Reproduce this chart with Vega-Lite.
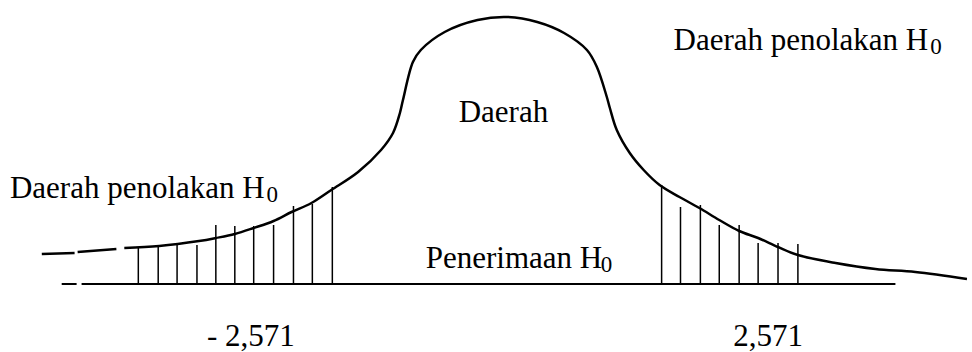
{
  "$schema": "https://vega.github.io/schema/vega-lite/v6.json",
  "width": 972,
  "height": 352,
  "padding": 0,
  "autosize": {"type": "fit", "contains": "padding"},
  "background": "white",
  "config": {"view": {"stroke": null}},
  "datasets": {
    "curve": [
      {"seg": 1, "t": -4.588, "d": 0.045},
      {"seg": 1, "t": -4.265, "d": 0.0465},
      {"seg": 2, "t": -4.235, "d": 0.048},
      {"seg": 2, "t": -3.853, "d": 0.0525},
      {"seg": 3, "t": -3.775, "d": 0.054},
      {"seg": 3, "t": -3.431, "d": 0.057},
      {"seg": 3, "t": -3.039, "d": 0.0645},
      {"seg": 3, "t": -2.873, "d": 0.069},
      {"seg": 3, "t": -2.686, "d": 0.075},
      {"seg": 3, "t": -2.5, "d": 0.084},
      {"seg": 3, "t": -2.304, "d": 0.0945},
      {"seg": 3, "t": -2.127, "d": 0.108},
      {"seg": 3, "t": -1.931, "d": 0.1215},
      {"seg": 3, "t": -1.735, "d": 0.141},
      {"seg": 3, "t": -1.471, "d": 0.168},
      {"seg": 3, "t": -1.245, "d": 0.201},
      {"seg": 3, "t": -1.127, "d": 0.2265},
      {"seg": 3, "t": -1.059, "d": 0.2565},
      {"seg": 3, "t": -1.029, "d": 0.276},
      {"seg": 3, "t": -0.931, "d": 0.333},
      {"seg": 3, "t": -0.853, "d": 0.351},
      {"seg": 3, "t": -0.618, "d": 0.378},
      {"seg": 3, "t": -0.294, "d": 0.396},
      {"seg": 3, "t": 0.0, "d": 0.4005},
      {"seg": 3, "t": 0.294, "d": 0.393},
      {"seg": 3, "t": 0.559, "d": 0.3765},
      {"seg": 3, "t": 0.784, "d": 0.351},
      {"seg": 3, "t": 0.882, "d": 0.3255},
      {"seg": 3, "t": 0.98, "d": 0.2805},
      {"seg": 3, "t": 1.01, "d": 0.264},
      {"seg": 3, "t": 1.078, "d": 0.231},
      {"seg": 3, "t": 1.206, "d": 0.1965},
      {"seg": 3, "t": 1.343, "d": 0.171},
      {"seg": 3, "t": 1.5, "d": 0.1485},
      {"seg": 3, "t": 1.696, "d": 0.1305},
      {"seg": 3, "t": 1.892, "d": 0.114},
      {"seg": 3, "t": 2.088, "d": 0.096},
      {"seg": 3, "t": 2.284, "d": 0.0795},
      {"seg": 3, "t": 2.471, "d": 0.069},
      {"seg": 3, "t": 2.667, "d": 0.0555},
      {"seg": 3, "t": 2.863, "d": 0.0435},
      {"seg": 3, "t": 3.235, "d": 0.0315},
      {"seg": 3, "t": 3.627, "d": 0.0225},
      {"seg": 3, "t": 4.02, "d": 0.018},
      {"seg": 3, "t": 4.529, "d": 0.0075}
    ],
    "hatch": [
      {"t": -3.637, "bottom": 0, "top": 0.054},
      {"t": -3.441, "bottom": 0, "top": 0.057},
      {"t": -3.255, "bottom": 0, "top": 0.06},
      {"t": -3.059, "bottom": 0, "top": 0.0585},
      {"t": -2.873, "bottom": 0, "top": 0.0885},
      {"t": -2.686, "bottom": 0, "top": 0.087},
      {"t": -2.5, "bottom": 0, "top": 0.087},
      {"t": -2.304, "bottom": 0, "top": 0.0885},
      {"t": -2.108, "bottom": 0, "top": 0.117},
      {"t": -1.922, "bottom": 0, "top": 0.12},
      {"t": -1.725, "bottom": 0, "top": 0.1455},
      {"t": 1.52, "bottom": 0, "top": 0.1485},
      {"t": 1.706, "bottom": 0, "top": 0.1155},
      {"t": 1.902, "bottom": 0, "top": 0.1185},
      {"t": 2.088, "bottom": 0, "top": 0.0885},
      {"t": 2.284, "bottom": 0, "top": 0.0885},
      {"t": 2.471, "bottom": 0, "top": 0.0615},
      {"t": 2.667, "bottom": 0, "top": 0.0615},
      {"t": 2.863, "bottom": 0, "top": 0.06}
    ],
    "base": [
      {"t": -4.392, "t2": -4.245, "d": 0},
      {"t": -4.196, "t2": 3.824, "d": 0}
    ],
    "labels": [
      {"t": 1.637, "d": 0.351, "label": "Daerah penolakan H"},
      {"t": -4.902, "d": 0.129, "label": "Daerah penolakan H"},
      {"t": -0.48, "d": 0.243, "label": "Daerah"},
      {"t": -0.804, "d": 0.024, "label": "Penerimaan H"},
      {"t": -2.961, "d": -0.093, "label": "- 2,571"},
      {"t": 2.225, "d": -0.093, "label": "2,571"}
    ],
    "subs": [
      {"t": 4.167, "d": 0.345, "label": "0"},
      {"t": -2.373, "d": 0.123, "label": "0"},
      {"t": 0.92, "d": 0.018, "label": "0"}
    ]
  },
  "layer": [
    {
      "data": {"name": "base"},
      "mark": {"type": "rule", "color": "black", "strokeWidth": 2},
      "encoding": {
        "x": {"field": "t", "type": "quantitative", "scale": {"domain": [-5, 4.5294]}, "axis": null},
        "x2": {"field": "t2"},
        "y": {"field": "d", "type": "quantitative", "scale": {"domain": [-0.102, 0.426]}, "axis": null}
      }
    },
    {
      "data": {"name": "hatch"},
      "mark": {"type": "rule", "color": "black", "strokeWidth": 1.5},
      "encoding": {
        "x": {"field": "t", "type": "quantitative", "scale": {"domain": [-5, 4.5294]}, "axis": null},
        "y": {"field": "bottom", "type": "quantitative", "scale": {"domain": [-0.102, 0.426]}, "axis": null},
        "y2": {"field": "top"}
      }
    },
    {
      "data": {"name": "curve"},
      "mark": {"type": "line", "color": "black", "strokeWidth": 2.5, "interpolate": "catmull-rom"},
      "encoding": {
        "x": {"field": "t", "type": "quantitative", "scale": {"domain": [-5, 4.5294]}, "axis": null},
        "y": {"field": "d", "type": "quantitative", "scale": {"domain": [-0.102, 0.426]}, "axis": null},
        "detail": {"field": "seg", "type": "nominal"}
      }
    },
    {
      "data": {"name": "labels"},
      "mark": {"type": "text", "align": "left", "baseline": "alphabetic", "font": "Liberation Serif", "fontSize": 31, "color": "black"},
      "encoding": {
        "x": {"field": "t", "type": "quantitative", "scale": {"domain": [-5, 4.5294]}, "axis": null},
        "y": {"field": "d", "type": "quantitative", "scale": {"domain": [-0.102, 0.426]}, "axis": null},
        "text": {"field": "label"}
      }
    },
    {
      "data": {"name": "subs"},
      "mark": {"type": "text", "align": "left", "baseline": "alphabetic", "font": "Liberation Serif", "fontSize": 23, "color": "black"},
      "encoding": {
        "x": {"field": "t", "type": "quantitative", "scale": {"domain": [-5, 4.5294]}, "axis": null},
        "y": {"field": "d", "type": "quantitative", "scale": {"domain": [-0.102, 0.426]}, "axis": null},
        "text": {"field": "label"}
      }
    }
  ]
}
